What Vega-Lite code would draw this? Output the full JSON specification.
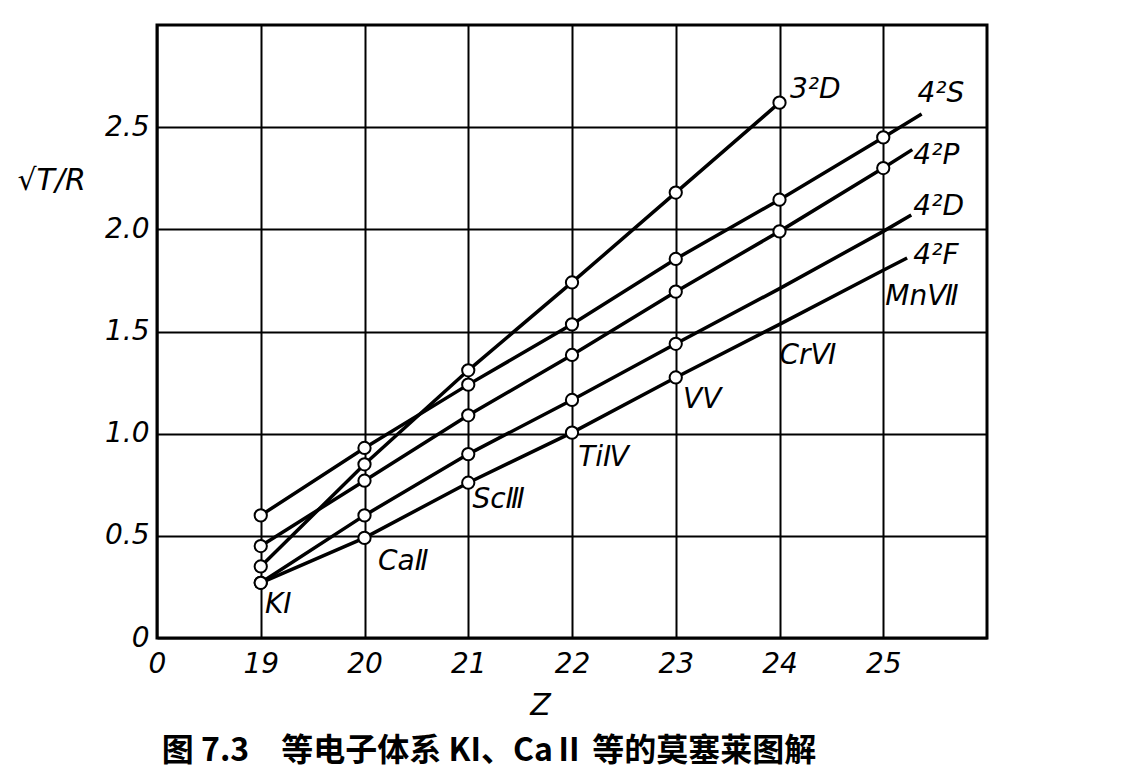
{
  "$schema": "https://vega.github.io/schema/vega-lite/v6.json",
  "width": 830,
  "height": 613,
  "autosize": {"type": "none"},
  "padding": {"left": 157, "top": 25, "right": 140, "bottom": 145},
  "background": "white",
  "config": {"view": {"stroke": "black", "strokeWidth": 3}, "font": "DejaVu Sans"},
  "title": {
    "text": "图 7.3　等电子体系 KI、CaⅡ 等的莫塞莱图解",
    "orient": "bottom",
    "anchor": "middle",
    "dx": -83,
    "offset": 16,
    "font": "Noto Sans CJK SC",
    "fontSize": 32,
    "fontWeight": "bold",
    "color": "black"
  },
  "datasets": {
    "lines": [
      {"series": "3D", "z": 19, "v": 0.35, "marker": true},
      {"series": "3D", "z": 20, "v": 0.85, "marker": true},
      {"series": "3D", "z": 21, "v": 1.31, "marker": true},
      {"series": "3D", "z": 22, "v": 1.74, "marker": true},
      {"series": "3D", "z": 23, "v": 2.18, "marker": true},
      {"series": "3D", "z": 24, "v": 2.62, "marker": true},
      {"series": "4S", "z": 19, "v": 0.60, "marker": true},
      {"series": "4S", "z": 20, "v": 0.93, "marker": true},
      {"series": "4S", "z": 21, "v": 1.24, "marker": true},
      {"series": "4S", "z": 22, "v": 1.535, "marker": true},
      {"series": "4S", "z": 23, "v": 1.855, "marker": true},
      {"series": "4S", "z": 24, "v": 2.145, "marker": true},
      {"series": "4S", "z": 25, "v": 2.45, "marker": true},
      {"series": "4S", "z": 25.37, "v": 2.565, "marker": false},
      {"series": "4P", "z": 19, "v": 0.45, "marker": true},
      {"series": "4P", "z": 20, "v": 0.77, "marker": true},
      {"series": "4P", "z": 21, "v": 1.09, "marker": true},
      {"series": "4P", "z": 22, "v": 1.385, "marker": true},
      {"series": "4P", "z": 23, "v": 1.695, "marker": true},
      {"series": "4P", "z": 24, "v": 1.99, "marker": true},
      {"series": "4P", "z": 25, "v": 2.30, "marker": true},
      {"series": "4P", "z": 25.28, "v": 2.39, "marker": false},
      {"series": "4D", "z": 19, "v": 0.27, "marker": true},
      {"series": "4D", "z": 20, "v": 0.60, "marker": true},
      {"series": "4D", "z": 21, "v": 0.90, "marker": true},
      {"series": "4D", "z": 22, "v": 1.165, "marker": true},
      {"series": "4D", "z": 23, "v": 1.44, "marker": true},
      {"series": "4D", "z": 24, "v": 1.71, "marker": false},
      {"series": "4D", "z": 25, "v": 1.99, "marker": false},
      {"series": "4D", "z": 25.27, "v": 2.07, "marker": false},
      {"series": "4F", "z": 19, "v": 0.27, "marker": true},
      {"series": "4F", "z": 20, "v": 0.49, "marker": true},
      {"series": "4F", "z": 21, "v": 0.76, "marker": true},
      {"series": "4F", "z": 22, "v": 1.005, "marker": true},
      {"series": "4F", "z": 23, "v": 1.275, "marker": true},
      {"series": "4F", "z": 24, "v": 1.535, "marker": false},
      {"series": "4F", "z": 25, "v": 1.80, "marker": false},
      {"series": "4F", "z": 25.23, "v": 1.86, "marker": false}
    ],
    "labels": [
      {"label": "3²D", "z": 24.1, "v": 2.68},
      {"label": "4²S", "z": 25.33, "v": 2.66},
      {"label": "4²P", "z": 25.29, "v": 2.36},
      {"label": "4²D", "z": 25.29, "v": 2.11},
      {"label": "4²F", "z": 25.29, "v": 1.87},
      {"label": "MnⅦ", "z": 25.02, "v": 1.67},
      {"label": "CrⅥ", "z": 24.0, "v": 1.38},
      {"label": "VⅤ", "z": 23.07, "v": 1.165},
      {"label": "TiⅣ", "z": 22.06, "v": 0.88},
      {"label": "ScⅢ", "z": 21.04, "v": 0.675},
      {"label": "CaⅡ", "z": 20.13, "v": 0.37},
      {"label": "KI", "z": 19.04, "v": 0.16}
    ]
  },
  "encoding": {
    "x": {
      "field": "z", "type": "quantitative",
      "scale": {"domain": [18, 26], "nice": false, "zero": false},
      "axis": {
        "values": [18, 19, 20, 21, 22, 23, 24, 25],
        "labelExpr": "datum.value == 18 ? '0' : datum.label",
        "grid": true, "gridColor": "black", "gridWidth": 2, "gridOpacity": 1,
        "domain": false, "ticks": false,
        "labelFontSize": 28, "labelFontStyle": "italic", "labelColor": "black",
        "labelPadding": 12, "labelFlush": false, "labelOverlap": false,
        "title": "Z", "titleFontSize": 30, "titleFontStyle": "italic",
        "titleFontWeight": "normal", "titleColor": "black",
        "titleX": 383, "titleY": 52
      }
    },
    "y": {
      "field": "v", "type": "quantitative",
      "scale": {"domain": [0, 3], "nice": false},
      "axis": {
        "values": [0, 0.5, 1, 1.5, 2, 2.5],
        "labelExpr": "datum.value == 0 ? '0' : format(datum.value, '.1f')",
        "grid": true, "gridColor": "black", "gridWidth": 2, "gridOpacity": 1,
        "domain": false, "ticks": false,
        "labelFontSize": 28, "labelFontStyle": "italic", "labelColor": "black",
        "labelPadding": 8, "labelFlush": false, "labelOverlap": false,
        "title": "√T/R", "titleAngle": 0, "titleAlign": "left", "titleBaseline": "middle",
        "titleFontSize": 30, "titleFontStyle": "italic", "titleFontWeight": "normal",
        "titleColor": "black", "titleX": -140, "titleY": 155
      }
    }
  },
  "layer": [
    {
      "data": {"name": "lines"},
      "mark": {"type": "line", "color": "black", "strokeWidth": 3.5},
      "encoding": {
        "detail": {"field": "series"},
        "order": {"field": "z"}
      }
    },
    {
      "data": {"name": "lines"},
      "transform": [{"filter": "datum.marker"}],
      "mark": {"type": "point", "shape": "circle", "filled": true, "fill": "white", "stroke": "black", "strokeWidth": 2, "size": 150, "opacity": 1}
    },
    {
      "data": {"name": "labels"},
      "mark": {"type": "text", "align": "left", "baseline": "middle", "fontStyle": "italic", "fontSize": 28, "color": "black"},
      "encoding": {
        "text": {"field": "label"}
      }
    }
  ]
}
